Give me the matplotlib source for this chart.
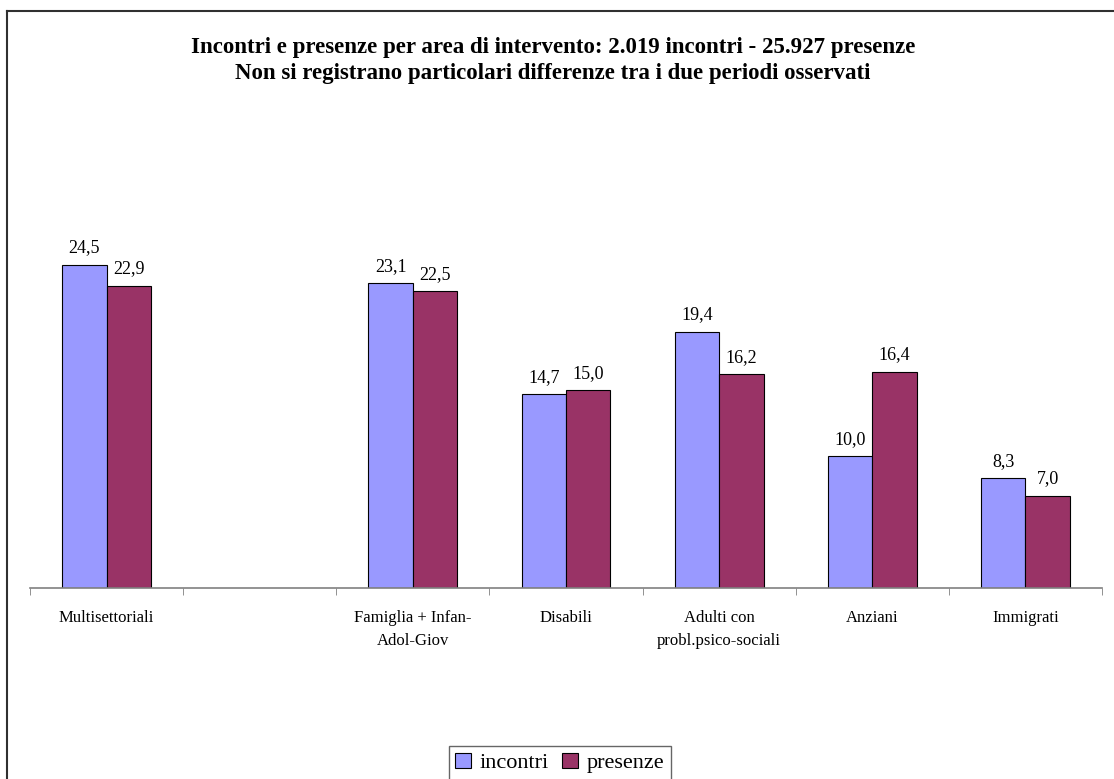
import numpy as np
import matplotlib
matplotlib.use('Agg')
import matplotlib.pyplot as plt
from matplotlib.lines import Line2D

categories = ['Multisettoriali', '', 'Famiglia + Infan-\nAdol-Giov', 'Disabili',
              'Adulti con\nprobl.psico-sociali', 'Anziani', 'Immigrati']
incontri = [24.5, None, 23.1, 14.7, 19.4, 10.0, 8.3]
presenze = [22.9, None, 22.5, 15.0, 16.2, 16.4, 7.0]

plt.rcParams['font.family'] = ['Liberation Serif', 'DejaVu Serif']

fig = plt.figure(figsize=(11.14, 7.79), dpi=100)
ax = fig.add_axes([30/1114, (779-588)/779, (1102-30)/1114, 396/779])

x = np.arange(len(categories))
w = 0.29
for i in range(len(categories)):
    if incontri[i] is None:
        continue
    ax.bar(x[i] - w/2, incontri[i], w, color='#9999FF', edgecolor='black', linewidth=0.8)
    ax.bar(x[i] + w/2, presenze[i], w, color='#993366', edgecolor='black', linewidth=0.8)
    for xx, v in [(x[i] - w/2, incontri[i]), (x[i] + w/2, presenze[i])]:
        ax.annotate(('%.1f' % v).replace('.', ','), (xx, v), xytext=(0, 6),
                    textcoords='offset points', ha='center', va='bottom', fontsize=13)

ax.set_xlim(-0.5, len(categories) - 0.5)
ax.set_ylim(0, 30)
ax.set_xticks(x)
ax.set_xticklabels(categories, fontsize=12, linespacing=1.55)
ax.tick_params(axis='x', which='major', length=0, pad=16)
ax.set_xticks(np.arange(len(categories) + 1) - 0.5, minor=True)
ax.tick_params(axis='x', which='minor', length=5, color='#808080', direction='out')
ax.set_yticks([])
for s in ['top', 'right', 'left']:
    ax.spines[s].set_visible(False)
ax.spines['bottom'].set_color('#808080')
ax.spines['bottom'].set_linewidth(1.2)

fig.text(553/1114, 1 - 47/779, 'Incontri e presenze per area di intervento: 2.019 incontri - 25.927 presenze',
         ha='center', va='center', fontsize=16.5, fontweight='bold')
fig.text(553/1114, 1 - 73/779, 'Non si registrano particolari differenze tra i due periodi osservati',
         ha='center', va='center', fontsize=16.5, fontweight='bold')

handles = [plt.Rectangle((0, 0), 1, 1, facecolor='#9999FF', edgecolor='black', linewidth=0.8),
           plt.Rectangle((0, 0), 1, 1, facecolor='#993366', edgecolor='black', linewidth=0.8)]
leg = fig.legend(handles, ['incontri', 'presenze'], loc='upper center',
                 bbox_to_anchor=(560/1114, 1 - 746/779), ncol=2, fontsize=16,
                 frameon=True, fancybox=False, handlelength=0.7, handleheight=0.7,
                 handletextpad=0.4, columnspacing=0.6, borderpad=0.3, borderaxespad=0)
leg.get_frame().set_edgecolor('#404040')
leg.get_frame().set_linewidth(1.0)

# outer frame (cropped on the right and bottom)
fig.add_artist(Line2D([7/1114, 1.0], [1 - 11/779, 1 - 11/779], color='#303030', linewidth=1.5))
fig.add_artist(Line2D([7/1114, 7/1114], [0.0, 1 - 11/779], color='#303030', linewidth=1.5))

plt.savefig('out.png', dpi=100)
